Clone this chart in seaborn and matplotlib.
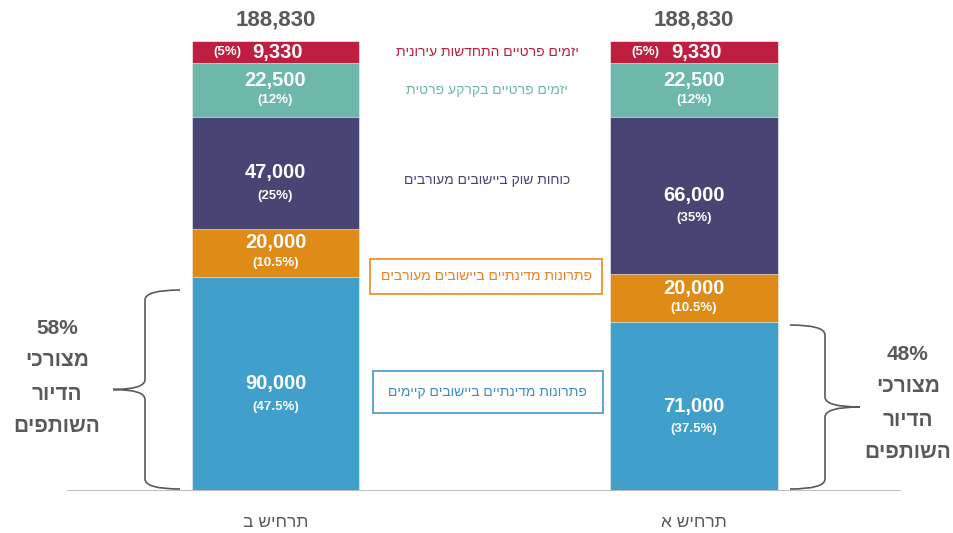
import pandas as pd
import numpy as np
import seaborn as sns
import matplotlib.pyplot as plt
from matplotlib.path import Path
from matplotlib.patches import PathPatch, Rectangle

# -- Dados dos cenários (de baixo para cima) -- #

cenarios = ["תרחיש ב", "תרחיש א"]
segmentos = ["פתרונות מדינתיים ביישובים קיימים", "פתרונות מדינתיים ביישובים מעורבים",
             "כוחות שוק ביישובים מעורבים", "יזמים פרטיים בקרקע פרטית",
             "יזמים פרטיים התחדשות עירונית"]
valores_b = [90000, 20000, 47000, 22500, 9330]
valores_a = [71000, 20000, 66000, 22500, 9330]
pct_b = ["(47.5%)", "(10.5%)", "(25%)", "(12%)", "(5%)"]
pct_a = ["(37.5%)", "(10.5%)", "(35%)", "(12%)", "(5%)"]
chaves = ["58%", "48%"]
chave_texto = ["מצורכי", "הדיור", "השותפים"]

cores = ["#40A0CB", "#DE8B17", "#484574", "#6DB8AB", "#BE1E3F"]
cores_texto = ["#3E8EC0", "#F07F1E", "#484574", "#6DB8AB", "#BE1E3F"]
cinza = "#595959"

sns.set_style("white")
plt.rcParams["font.family"] = ["Liberation Sans", "DejaVu Sans"]

heb = lambda s: s[::-1]  # matplotlib não faz RTL

dados = pd.DataFrame({"cenario": [heb(c) for c in cenarios for _ in segmentos],
                      "segmento": segmentos * 2,
                      "valor": valores_b + valores_a})
dados["acumulado"] = dados.groupby("cenario", sort=False)["valor"].cumsum()
dados["base"] = dados["acumulado"] - dados["valor"]

# -- Barras empilhadas -- #
fig = plt.figure(figsize=(9.54, 5.33), dpi=100)
ax = fig.add_axes([0, 1 - 491 / 533, 1, 491 / 533])
ordem = [heb(c) for c in cenarios]
for i in reversed(range(len(segmentos))):
    parte = dados[dados["segmento"] == segmentos[i]]
    sns.barplot(data=parte, x="cenario", y="acumulado", order=ordem, color=cores[i],
                width=0.4, saturation=1, edgecolor="white", linewidth=0.4, ax=ax)

ax.set_xlim(-275.5 / 418.5, (954 - 275.5) / 418.5)
ax.set_ylim(0, 491 / 0.002383)
ax.axhline(0, xmin=68 / 954, xmax=900 / 954, color="#bdbdbd", lw=1.4)
sns.despine(ax=ax, left=True, bottom=True)
ax.set_yticks([])
ax.set_xlabel("")
ax.set_ylabel("")
ax.tick_params(axis="x", length=0, pad=17, labelsize=12.5, labelcolor=cinza)

# Rótulos dentro das barras
for j, (vals, pcts) in enumerate([(valores_b, pct_b), (valores_a, pct_a)]):
    base = 0
    for i, (v, p) in enumerate(zip(vals, pcts)):
        meio = base + v / 2
        if i == 4:
            ax.annotate(f"{v:,}", (j, meio), xytext=(1.5, 0), textcoords="offset points",
                        ha="center", va="center", color="white", fontsize=14.5, fontweight="bold")
            ax.annotate(p, (j, meio), xytext=(-35, 0), textcoords="offset points",
                        ha="center", va="center", color="white", fontsize=9.5, fontweight="bold")
        elif v > 30000:
            ax.annotate(f"{v:,}", (j, meio), xytext=(0, 0), textcoords="offset points",
                        ha="center", va="center", color="white", fontsize=14.5, fontweight="bold")
            ax.annotate(p, (j, meio), xytext=(0, -16.5), textcoords="offset points",
                        ha="center", va="center", color="white", fontsize=9.5, fontweight="bold")
        else:
            ax.annotate(f"{v:,}", (j, meio), xytext=(0, 7), textcoords="offset points",
                        ha="center", va="center", color="white", fontsize=14.5, fontweight="bold")
            ax.annotate(p, (j, meio), xytext=(0, -7.5), textcoords="offset points",
                        ha="center", va="center", color="white", fontsize=9.5, fontweight="bold")
        base += v
    ax.annotate(f"{sum(vals):,}", (j, sum(vals)), xytext=(0, 15), textcoords="offset points",
                ha="center", va="center", color=cinza, fontsize=16, fontweight="bold")

# Legenda no meio
posicoes_y = [392, 276, 180, 90, 52]
for i, seg in enumerate(segmentos):
    fig.text(487 / 954, 1 - posicoes_y[i] / 533, heb(seg), ha="center", va="center",
             color=cores_texto[i], fontsize=10)
fig.patches.append(Rectangle((370 / 954, 1 - 294 / 533), 232 / 954, 35 / 533,
                             transform=fig.transFigure, fill=False, ec="#F0922E", lw=1.3))
fig.patches.append(Rectangle((373 / 954, 1 - 413 / 533), 230 / 954, 42 / 533,
                             transform=fig.transFigure, fill=False, ec="#4FA3CF", lw=1.3))

# Chaves e texto lateral
for ponta, espinha, extremo, topo, fundo, x_txt, y_txt, rotulo in [
        (113, 145, 180, 290, 489, 57, 328, chaves[0]),
        (860, 825, 790, 325, 489, 908, 354, chaves[1])]:
    meio = (topo + fundo) / 2
    pts = [(extremo, topo), (espinha, topo), (espinha, topo + 10), (espinha, meio - 10),
           (espinha, meio), (ponta, meio), (espinha, meio), (espinha, meio + 10),
           (espinha, fundo - 10), (espinha, fundo), (extremo, fundo)]
    pts = [(x / 954, 1 - y / 533) for x, y in pts]
    codigos = [Path.MOVETO, Path.CURVE3, Path.CURVE3, Path.LINETO, Path.CURVE3, Path.CURVE3,
               Path.CURVE3, Path.CURVE3, Path.LINETO, Path.CURVE3, Path.CURVE3]
    fig.patches.append(PathPatch(Path(pts, codigos), transform=fig.transFigure,
                                 fill=False, ec=cinza, lw=1.2))
    for k, linha in enumerate([rotulo] + [heb(t) for t in chave_texto]):
        fig.text(x_txt / 954, 1 - (y_txt + 33 * k) / 533, linha, ha="center", va="center",
                 color=cinza, fontsize=15, fontweight="bold")

plt.savefig("out.png", dpi=100)
